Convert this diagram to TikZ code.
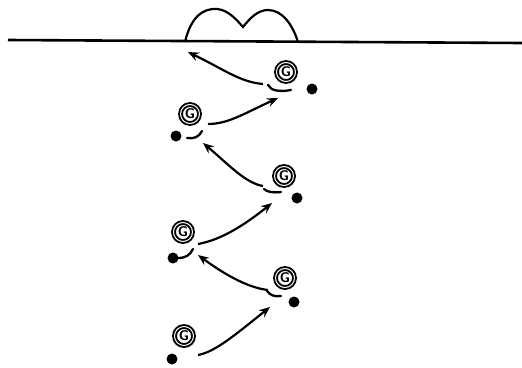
\documentclass[tikz,border=0pt]{standalone}
\usepackage{fontspec}
\usetikzlibrary{arrows.meta,calc}
\begin{document}
\begin{tikzpicture}[x=1pt,y=-1pt,
  player/.style={circle,draw,line width=1.9pt,double,double distance=1pt,
    minimum size=19pt,inner sep=0pt,
    font=\fontsize{14}{14}\selectfont\sffamily\bfseries},
  puck/.style={circle,fill,inner sep=0pt,minimum size=11pt},
  pass/.style={line width=2.2pt,-{Stealth[length=11pt,width=9pt,inset=4pt]}},
  hook/.style={line width=2.3pt,line cap=round}]
\useasboundingbox (0,0) rectangle (522,367);

% ground line and the goal mound
\draw[line width=2.6pt] (8,40) -- (522,43);
\draw[line width=2.2pt] (185,42) .. controls (191,16) and (204,8) .. (217,9)
  .. controls (228,10) and (236,19) .. (243,27)
  .. controls (250,18) and (258,10) .. (268,10)
  .. controls (283,10) and (293,26) .. (298,42);

% players
\node[player] (g1) at (286,72) {G};
\node[player] (g2) at (190,114) {G};
\node[player] (g3) at (284,176) {G};
\node[player] (g4) at (183,232) {G};
\node[player] (g5) at (285,278) {G};
\node[player] (g6) at (184,336) {G};

% pucks
\node[puck] (d1) at (312,89) {};
\node[puck] (d2) at (176,136) {};
\node[puck] (d3) at (297,198) {};
\node[puck] (d4) at (173,258) {};
\node[puck] (d5) at (294,302) {};
\node[puck] (d6) at (172,359) {};

% pass start and end points
\coordinate (s1) at ($(g1)+(-23,12)$);
\coordinate (s2) at ($(g2)+(18,10)$);
\coordinate (s3) at ($(g3)+(-21,10)$);
\coordinate (s4) at ($(g4)+(15,12)$);
\coordinate (s5) at ($(g5)+(-17,12)$);
\coordinate (s6) at ($(g6)+(14,19)$);
\coordinate (t1) at (188,52);
\coordinate (t2) at ($(g1)+(-8,26)$);
\coordinate (t3) at ($(g2)+(13,29)$);
\coordinate (t4) at ($(g3)+(-12,27)$);
\coordinate (t5) at ($(g4)+(15,23)$);
\coordinate (t6) at ($(g5)+(-15,29)$);

% passes
\draw[pass] (s1) .. controls +(-23,-2) and +(37,18) .. (t1);
\draw[pass] (s2) .. controls +(20,0) and +(-35,16) .. (t2);
\draw[pass] (s3) .. controls +(-18,-3) and +(24,20) .. (t3);
\draw[pass] (s4) .. controls +(22,-4) and +(-30,24) .. (t4);
\draw[pass] (s5) .. controls +(-18,-2) and +(30,22) .. (t5);
\draw[pass] (s6) .. controls +(17,-3) and +(-35,28) .. (t6);

% receiving sticks
\draw[hook] ($(g1)+(5,18)$) .. controls +(-11,2) and +(3,6) .. ($(g1)+(-18,13)$);
\draw[hook] ($(g2)+(-3,24)$) .. controls +(7,1) and +(-3,6) .. ($(g2)+(12,17)$);
\draw[hook] ($(g3)+(-3,16)$) .. controls +(-8,1) and +(3,3) .. ($(g3)+(-20,13)$);
\draw[hook] ($(g4)+(-5,26)$) .. controls +(8,0) and +(-3,6) .. ($(g4)+(10,17)$);
\draw[hook] ($(g5)+(-4,18)$) .. controls +(-7,1) and +(3,4) .. ($(g5)+(-18,13)$);
\end{tikzpicture}
\end{document}
